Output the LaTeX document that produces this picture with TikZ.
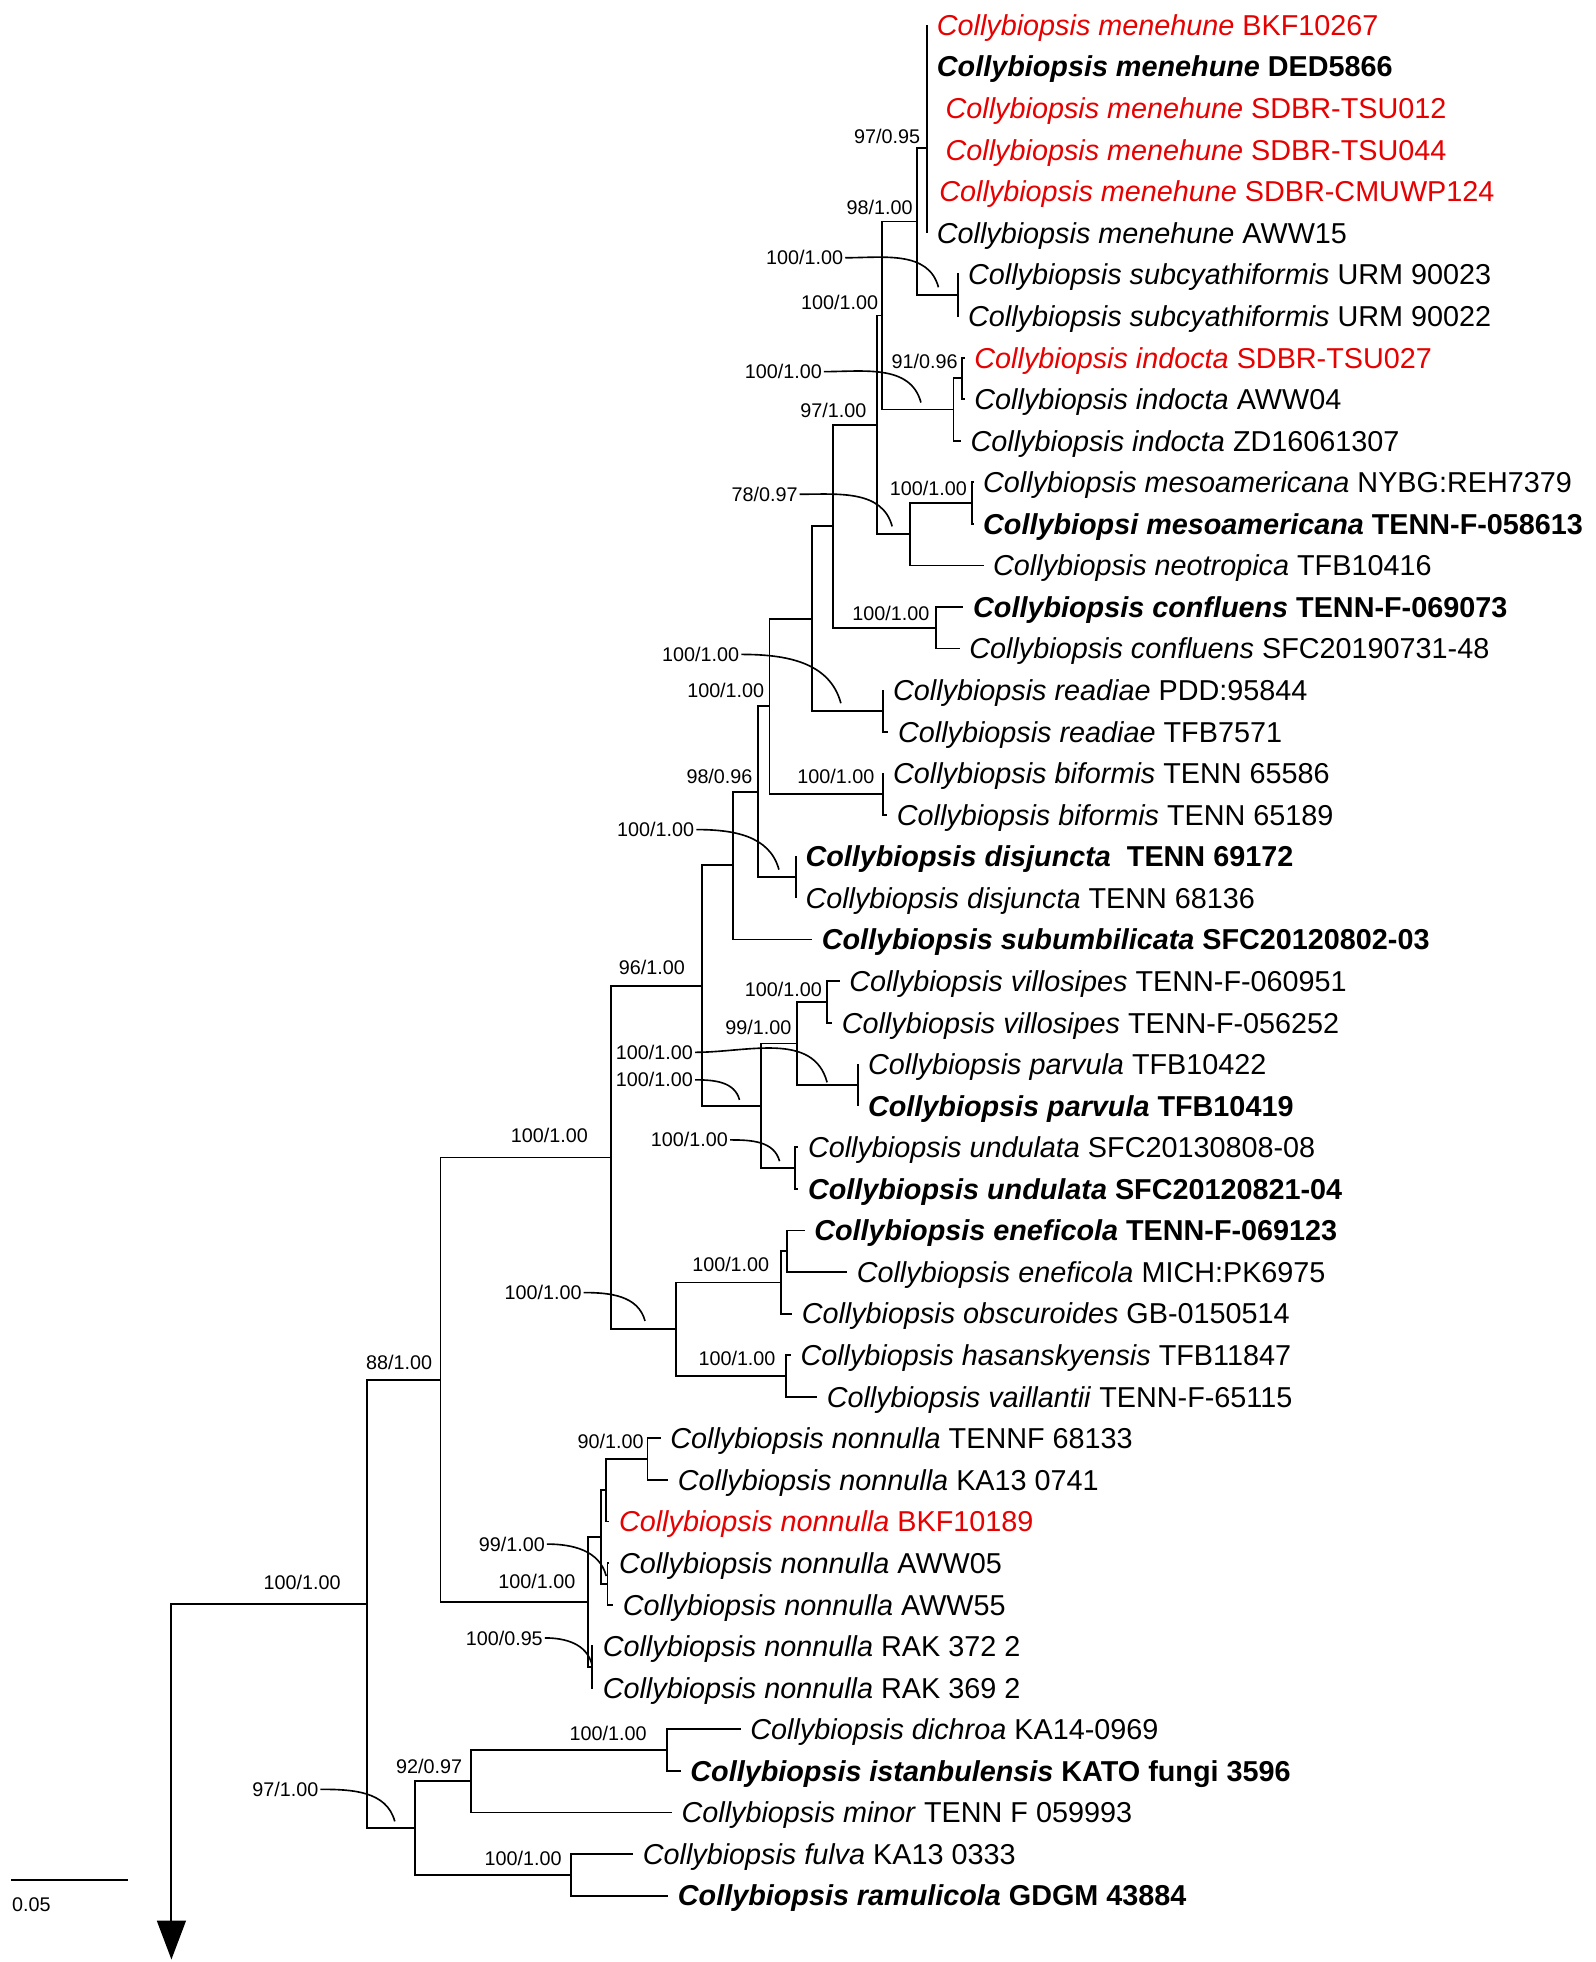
\documentclass[tikz,border=0pt]{standalone}
\usepackage{fontspec}
\setmainfont{Liberation Sans}
\usetikzlibrary{arrows.meta}
\definecolor{TaxRed}{HTML}{E60000}
\newcommand\tipsize{\fontsize{23}{26}\selectfont}
\newcommand\supsize{\fontsize{15.8}{18}\selectfont}
\newcommand\taxon[2]{\textit{#1} #2}
\newcommand\btaxon[2]{\textbf{\textit{#1} #2}}

\begin{document}
\begin{tikzpicture}[x=1pt,y=-1pt,line width=1.5pt,
  tip/.style={anchor=west,inner xsep=7pt,inner ysep=0pt,font=\tipsize,text height=20pt,text depth=3.4pt},
  redtip/.style={tip,text=TaxRed},
  sup/.style={font=\supsize,inner sep=1pt},
  leader/.style={line width=1.3pt}]
  \useasboundingbox (0,0) rectangle (1275,1568);

  % taxa
  \node[redtip] (t1) at (741,20) {\taxon{Collybiopsis menehune}{BKF10267}};
  \node[tip] (t2) at (741,53.2) {\btaxon{Collybiopsis menehune}{DED5866}};
  \node[redtip] (t3) at (748,86.4) {\taxon{Collybiopsis menehune}{SDBR-TSU012}};
  \node[redtip] (t4) at (748,119.7) {\taxon{Collybiopsis menehune}{SDBR-TSU044}};
  \node[redtip] (t5) at (743,152.9) {\taxon{Collybiopsis menehune}{SDBR-CMUWP124}};
  \node[tip] (t6) at (741,186.1) {\taxon{Collybiopsis menehune}{AWW15}};
  \node[tip] (t7) at (766,219.3) {\taxon{Collybiopsis subcyathiformis}{URM 90023}};
  \node[tip] (t8) at (766,252.5) {\taxon{Collybiopsis subcyathiformis}{URM 90022}};
  \node[redtip] (t9) at (771,285.8) {\taxon{Collybiopsis indocta}{SDBR-TSU027}};
  \node[tip] (t10) at (771,319.0) {\taxon{Collybiopsis indocta}{AWW04}};
  \node[tip] (t11) at (768,352.2) {\taxon{Collybiopsis indocta}{ZD16061307}};
  \node[tip] (t12) at (778,385.4) {\taxon{Collybiopsis mesoamericana}{NYBG:REH7379}};
  \node[tip] (t13) at (778,418.6) {\btaxon{Collybiopsi mesoamericana}{TENN-F-058613}};
  \node[tip] (t14) at (786,451.9) {\taxon{Collybiopsis neotropica}{TFB10416}};
  \node[tip] (t15) at (770,485.1) {\btaxon{Collybiopsis confluens}{TENN-F-069073}};
  \node[tip] (t16) at (767,518.3) {\taxon{Collybiopsis confluens}{SFC20190731-48}};
  \node[tip] (t17) at (706,551.5) {\taxon{Collybiopsis readiae}{PDD:95844}};
  \node[tip] (t18) at (710,584.7) {\taxon{Collybiopsis readiae}{TFB7571}};
  \node[tip] (t19) at (706,618.0) {\taxon{Collybiopsis biformis}{TENN 65586}};
  \node[tip] (t20) at (709,651.2) {\taxon{Collybiopsis biformis}{TENN 65189}};
  \node[tip] (t21) at (636,684.4) {\btaxon{Collybiopsis disjuncta}{\ TENN 69172}};
  \node[tip] (t22) at (636,717.6) {\taxon{Collybiopsis disjuncta}{TENN 68136}};
  \node[tip] (t23) at (649,750.8) {\btaxon{Collybiopsis subumbilicata}{SFC20120802-03}};
  \node[tip] (t24) at (671,784.1) {\taxon{Collybiopsis villosipes}{TENN-F-060951}};
  \node[tip] (t25) at (665,817.3) {\taxon{Collybiopsis villosipes}{TENN-F-056252}};
  \node[tip] (t26) at (686,850.5) {\taxon{Collybiopsis parvula}{TFB10422}};
  \node[tip] (t27) at (686,883.7) {\btaxon{Collybiopsis parvula}{TFB10419}};
  \node[tip] (t28) at (638,916.9) {\taxon{Collybiopsis undulata}{SFC20130808-08}};
  \node[tip] (t29) at (638,950.2) {\btaxon{Collybiopsis undulata}{SFC20120821-04}};
  \node[tip] (t30) at (643,983.4) {\btaxon{Collybiopsis eneficola}{TENN-F-069123}};
  \node[tip] (t31) at (677,1016.6) {\taxon{Collybiopsis eneficola}{MICH:PK6975}};
  \node[tip] (t32) at (633,1049.8) {\taxon{Collybiopsis obscuroides}{GB-0150514}};
  \node[tip] (t33) at (632,1083.0) {\taxon{Collybiopsis hasanskyensis}{TFB11847}};
  \node[tip] (t34) at (653,1116.3) {\taxon{Collybiopsis vaillantii}{TENN-F-65115}};
  \node[tip] (t35) at (528,1149.5) {\taxon{Collybiopsis nonnulla}{TENNF 68133}};
  \node[tip] (t36) at (534,1182.7) {\taxon{Collybiopsis nonnulla}{KA13 0741}};
  \node[redtip] (t37) at (487,1215.9) {\taxon{Collybiopsis nonnulla}{BKF10189}};
  \node[tip] (t38) at (487,1249.1) {\taxon{Collybiopsis nonnulla}{AWW05}};
  \node[tip] (t39) at (490,1282.4) {\taxon{Collybiopsis nonnulla}{AWW55}};
  \node[tip] (t40) at (474,1315.6) {\taxon{Collybiopsis nonnulla}{RAK 372 2}};
  \node[tip] (t41) at (474,1348.8) {\taxon{Collybiopsis nonnulla}{RAK 369 2}};
  \node[tip] (t42) at (592,1382.0) {\taxon{Collybiopsis dichroa}{KA14-0969}};
  \node[tip] (t43) at (544,1415.2) {\btaxon{Collybiopsis istanbulensis}{KATO fungi 3596}};
  \node[tip] (t44) at (537,1448.5) {\taxon{Collybiopsis minor}{TENN F 059993}};
  \node[tip] (t45) at (506,1481.7) {\taxon{Collybiopsis fulva}{KA13 0333}};
  \node[tip] (t46) at (534,1514.9) {\btaxon{Collybiopsis ramulicola}{GDGM 43884}};

  % internal nodes
  \coordinate (m) at (741,118);
  \coordinate (sc) at (765.5,235.9);
  \coordinate (n98) at (733,177);
  \coordinate (n91) at (768.5,302.4);
  \coordinate (ind) at (762,327.3);
  \coordinate (na) at (705,252.1);
  \coordinate (meso) at (777,402);
  \coordinate (mn) at (727,426.9);
  \coordinate (n97) at (701,339.5);
  \coordinate (cf) at (748,501.7);
  \coordinate (q) at (666,420.6);
  \coordinate (rd) at (706,568.1);
  \coordinate (nb) at (649,494.4);
  \coordinate (bf) at (706,634.6);
  \coordinate (nc) at (615,564.5);
  \coordinate (dj) at (636,701);
  \coordinate (nd) at (606,632.7);
  \coordinate (ne) at (586,691.2);
  \coordinate (vl) at (661,800.7);
  \coordinate (pv) at (686,867.1);
  \coordinate (n99) at (637,833.9);
  \coordinate (ud) at (635,933.6);
  \coordinate (ng) at (608,883.7);
  \coordinate (nf) at (561,787.8);
  \coordinate (en) at (629,1000);
  \coordinate (eo) at (624.5,1024.9);
  \coordinate (hv) at (628,1099.7);
  \coordinate (ni) at (540,1062.3);
  \coordinate (nh) at (488,925);
  \coordinate (n90) at (517.5,1166.1);
  \coordinate (nup) at (484,1191);
  \coordinate (aw) at (485.5,1265.8);
  \coordinate (nn99) at (480,1228.4);
  \coordinate (rak) at (473,1332.2);
  \coordinate (nn) at (470,1280.3);
  \coordinate (n88) at (352,1102.6);
  \coordinate (di) at (533,1398.6);
  \coordinate (n92) at (376.5,1423.5);
  \coordinate (fr) at (456,1498.3);
  \coordinate (n97b) at (331.5,1460.9);
  \coordinate (root) at (293,1281.8);
  \coordinate (outg) at (137,1281.8);
  \coordinate (outgend) at (137,1566);

  % branches
  \draw (t1.west -| m) -- (t6.west -| m);
  \draw (sc) |- (t7.west) (sc) |- (t8.west);
  \draw (n98) |- (m) (n98) |- (sc);
  \draw (n91) |- (t9.west) (n91) |- (t10.west);
  \draw (ind) |- (n91) (ind) |- (t11.west);
  \draw (na) |- (n98) (na) |- (ind);
  \draw (meso) |- (t12.west) (meso) |- (t13.west);
  \draw (mn) |- (meso) (mn) |- (t14.west);
  \draw (n97) |- (na) (n97) |- (mn);
  \draw (cf) |- (t15.west) (cf) |- (t16.west);
  \draw (q) |- (n97) (q) |- (cf);
  \draw (rd) |- (t17.west) (rd) |- (t18.west);
  \draw (nb) |- (q) (nb) |- (rd);
  \draw (bf) |- (t19.west) (bf) |- (t20.west);
  \draw (nc) |- (nb) (nc) |- (bf);
  \draw (dj) |- (t21.west) (dj) |- (t22.west);
  \draw (nd) |- (nc) (nd) |- (dj);
  \draw (ne) |- (nd) (ne) |- (t23.west);
  \draw (vl) |- (t24.west) (vl) |- (t25.west);
  \draw (pv) |- (t26.west) (pv) |- (t27.west);
  \draw (n99) |- (vl) (n99) |- (pv);
  \draw (ud) |- (t28.west) (ud) |- (t29.west);
  \draw (ng) |- (n99) (ng) |- (ud);
  \draw (nf) |- (ne) (nf) |- (ng);
  \draw (en) |- (t30.west) (en) |- (t31.west);
  \draw (eo) |- (en) (eo) |- (t32.west);
  \draw (hv) |- (t33.west) (hv) |- (t34.west);
  \draw (ni) |- (eo) (ni) |- (hv);
  \draw (nh) |- (nf) (nh) |- (ni);
  \draw (n90) |- (t35.west) (n90) |- (t36.west);
  \draw (nup) |- (n90) (nup) |- (t37.west);
  \draw (aw) |- (t38.west) (aw) |- (t39.west);
  \draw (nn99) |- (nup) (nn99) |- (aw);
  \draw (rak) |- (t40.west) (rak) |- (t41.west);
  \draw (nn) |- (nn99) (nn) |- (rak);
  \draw (n88) |- (nh) (n88) |- (nn);
  \draw (di) |- (t42.west) (di) |- (t43.west);
  \draw (n92) |- (di) (n92) |- (t44.west);
  \draw (fr) |- (t45.west) (fr) |- (t46.west);
  \draw (n97b) |- (n92) (n97b) |- (fr);
  \draw (root) |- (n88) (root) |- (n97b);
  \draw[-{Triangle[width=23pt,length=31pt]}] (root) -- (outg) -- (outgend);

  % support values
  \node[sup] (s1) at (709,109) {97/0.95};
  \node[sup] (s2) at (703,166) {98/1.00};
  \node[sup] (s3) at (643,206) {100/1.00};
  \node[sup] (s4) at (671,242) {100/1.00};
  \node[sup] (s5) at (739,289) {91/0.96};
  \node[sup] (s6) at (626,297) {100/1.00};
  \node[sup] (s7) at (666,328) {97/1.00};
  \node[sup] (s8) at (742,390) {100/1.00};
  \node[sup] (s9) at (611,395) {78/0.97};
  \node[sup] (s10) at (712,490) {100/1.00};
  \node[sup] (s11) at (560,523) {100/1.00};
  \node[sup] (s12) at (580,552) {100/1.00};
  \node[sup] (s13) at (668,620.5) {100/1.00};
  \node[sup] (s14) at (575,620.5) {98/0.96};
  \node[sup] (s15) at (524,663) {100/1.00};
  \node[sup] (s16) at (521,773.5) {96/1.00};
  \node[sup] (s17) at (626,791) {100/1.00};
  \node[sup] (s18) at (606,821) {99/1.00};
  \node[sup] (s19) at (523,841) {100/1.00};
  \node[sup] (s20) at (523,863) {100/1.00};
  \node[sup] (s21) at (551,911) {100/1.00};
  \node[sup] (s22) at (439,907.5) {100/1.00};
  \node[sup] (s23) at (584,1010.5) {100/1.00};
  \node[sup] (s24) at (434,1033) {100/1.00};
  \node[sup] (s25) at (589,1086) {100/1.00};
  \node[sup] (s26) at (319,1089) {88/1.00};
  \node[sup] (s27) at (488,1152) {90/1.00};
  \node[sup] (s28) at (409,1234) {99/1.00};
  \node[sup] (s29) at (429,1263.5) {100/1.00};
  \node[sup] (s30) at (403,1309) {100/0.95};
  \node[sup] (s31) at (241.5,1265) {100/1.00};
  \node[sup] (s32) at (486,1385) {100/1.00};
  \node[sup] (s33) at (343,1412) {92/0.97};
  \node[sup] (s34) at (228,1430) {97/1.00};
  \node[sup] (s35) at (418,1485) {100/1.00};

  % leaders from support values
  \coordinate (c3) at (750,229.6);
  \coordinate (c6) at (736,321.7);
  \coordinate (c9) at (713,420.7);
  \coordinate (c11) at (672,562);
  \coordinate (c15) at (622.5,695);
  \coordinate (c19) at (661,865);
  \coordinate (c20) at (591,879);
  \coordinate (c21) at (623,928);
  \coordinate (c24) at (515.5,1055.7);
  \coordinate (c28) at (484.5,1259.5);
  \coordinate (c30) at (473,1330);
  \coordinate (c34) at (315.5,1455.6);
  \draw[leader] (s3.east) to[out=0,in=105] (c3);
  \draw[leader] (s6.east) to[out=0,in=105] (c6);
  \draw[leader] (s9.east) to[out=0,in=105] (c9);
  \draw[leader] (s11.east) to[out=0,in=105] (c11);
  \draw[leader] (s15.east) to[out=0,in=105] (c15);
  \draw[leader] (s19.east) to[out=0,in=105] (c19);
  \draw[leader] (s20.east) to[out=0,in=105] (c20);
  \draw[leader] (s21.east) to[out=0,in=105] (c21);
  \draw[leader] (s24.east) to[out=0,in=105] (c24);
  \draw[leader] (s28.east) to[out=0,in=105] (c28);
  \draw[leader] (s30.east) to[out=0,in=105] (c30);
  \draw[leader] (s34.east) to[out=0,in=105] (c34);

  % scale bar
  \coordinate (sb0) at (9,1502.4);
  \coordinate (sb1) at (102,1502.4);
  \draw (sb0) -- (sb1);
  \node[sup] (sbl) at (25,1522) {0.05};
\end{tikzpicture}
\end{document}
